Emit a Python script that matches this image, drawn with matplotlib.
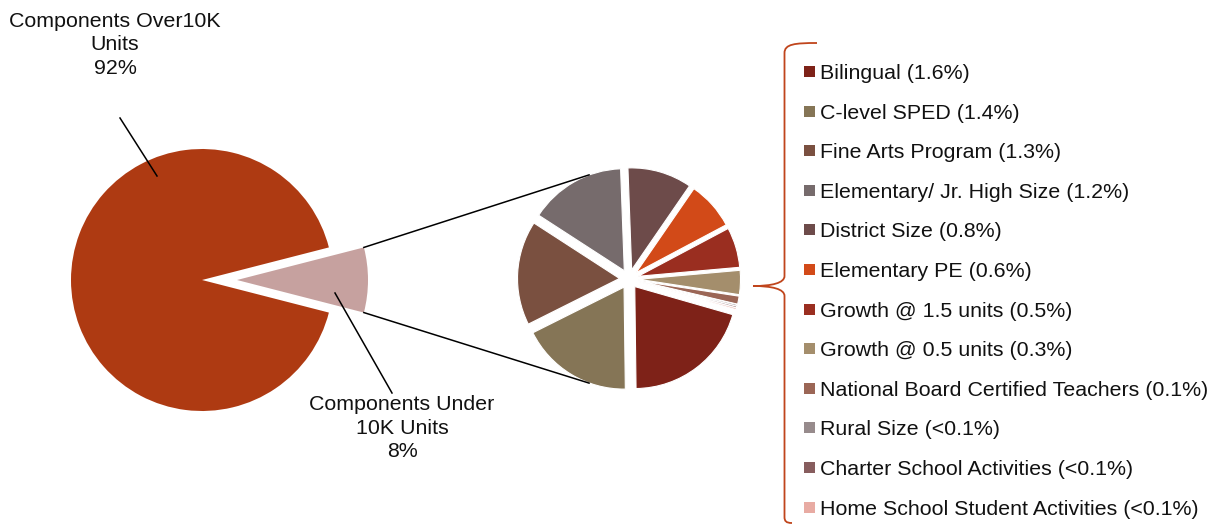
import matplotlib
matplotlib.use("Agg")
import numpy as np
import matplotlib.pyplot as plt
from matplotlib.path import Path
from matplotlib.patches import PathPatch, Rectangle

plt.rcParams['font.family'] = ['Liberation Sans', 'DejaVu Sans']

# Main split
main_labels = ["Components Under\n10K Units", "Components Over10K\nUnits"]
main_values = [8, 92]
main_colors = ["#C6A19F", "#AE3A12"]

# Breakdown of the under-10K share (percent of total)
sub_labels = [
    "Bilingual", "C-level SPED", "Fine Arts Program", "Elementary/ Jr. High Size",
    "District Size", "Elementary PE", "Growth @ 1.5 units", "Growth @ 0.5 units",
    "National Board Certified Teachers", "Rural Size", "Charter School Activities",
    "Home School Student Activities",
]
sub_values = [1.6, 1.4, 1.3, 1.2, 0.8, 0.6, 0.5, 0.3, 0.1, 0.02, 0.02, 0.02]
sub_value_text = ["1.6%", "1.4%", "1.3%", "1.2%", "0.8%", "0.6%", "0.5%", "0.3%",
                  "0.1%", "<0.1%", "<0.1%", "<0.1%"]
sub_colors = ["#7E2218", "#857556", "#7A5040", "#766B6C", "#6D4B4A", "#D24A18",
              "#9A2E20", "#A48E6C", "#9B6656", "#978B8C", "#875D5E", "#E8ABA3"]

W, H = 1216, 525
FS = 15.4
TXT = "#111111"
fig = plt.figure(figsize=(W / 100, H / 100), dpi=100)
ax = fig.add_axes([0, 0, 1, 1])

# ---- left pie ----
c1 = (202, H - 280)
r1 = 131
half = main_values[0] / sum(main_values) * 180
off1 = 35          # explode distance, data units
w1, _ = ax.pie(main_values, colors=main_colors, startangle=-half, counterclock=True,
               explode=[off1, 0], radius=r1, center=c1, frame=False,
               wedgeprops=dict(linewidth=0))

# ---- right pie ----
c2 = (629, H - 279)
r2 = 102
off2 = 9.5
w2, _ = ax.pie(sub_values, colors=sub_colors, startangle=-16, counterclock=False,
               explode=[off2] * len(sub_values), radius=r2, center=c2, frame=False,
               wedgeprops=dict(linewidth=0.8, edgecolor="white"))

ax.set_xlim(0, W)
ax.set_ylim(0, H)
ax.set_aspect('equal')
ax.axis('off')

# connector lines between the two pies
pc = (c1[0] + off1, c1[1])
for sgn in (1, -1):
    a = np.deg2rad(sgn * half)
    p0 = (pc[0] + r1 * np.cos(a), pc[1] + r1 * np.sin(a))
    b = np.deg2rad(sgn * 111)
    rr = r2 + off2
    p1 = (c2[0] + rr * np.cos(b), c2[1] + rr * np.sin(b))
    ax.plot([p0[0], p1[0]], [p0[1], p1[1]], color="black", lw=1.1)

# data labels with leader lines
ax.text(115, H - 45, f"{main_labels[1]}\n{main_values[1]}%", ha="center", va="center",
        fontsize=FS, color=TXT, linespacing=1.32)
ax.plot([120, 157], [H - 118, H - 176], color="black", lw=1.1)
ax.text(402, H - 428, f"{main_labels[0]}\n{main_values[0]}%", ha="center", va="center",
        fontsize=FS, color=TXT, linespacing=1.32)
ax.plot([335, 392], [H - 293, H - 393], color="black", lw=1.1)

# brace grouping the breakdown legend
bx = 784.5
verts = [(817, 43), (795, 43), (bx, 44), (bx, 53),
         (bx, 276),
         (bx, 283), (772, 286), (753, 286),
         (772, 286), (bx, 289), (bx, 296),
         (bx, 517),
         (bx, 521), (786, 523), (792, 523)]
codes = [Path.MOVETO, Path.CURVE4, Path.CURVE4, Path.CURVE4,
         Path.LINETO,
         Path.CURVE4, Path.CURVE4, Path.CURVE4,
         Path.CURVE4, Path.CURVE4, Path.CURVE4,
         Path.LINETO,
         Path.CURVE4, Path.CURVE4, Path.CURVE4]
verts = [(x, H - y) for x, y in verts]
ax.add_patch(PathPatch(Path(verts, codes), facecolor="none", edgecolor="#C0451C", lw=1.3))

# legend entries
y0, step = 71.5, 39.6
for i, (lab, vt, col) in enumerate(zip(sub_labels, sub_value_text, sub_colors)):
    yc = y0 + i * step
    ax.add_patch(Rectangle((804, H - yc - 5.5), 11, 11, facecolor=col, edgecolor="none"))
    ax.text(820, H - yc - 7.5, f"{lab} ({vt})", ha="left", va="baseline",
            fontsize=FS, color=TXT)

fig.savefig("out.png", dpi=100)
